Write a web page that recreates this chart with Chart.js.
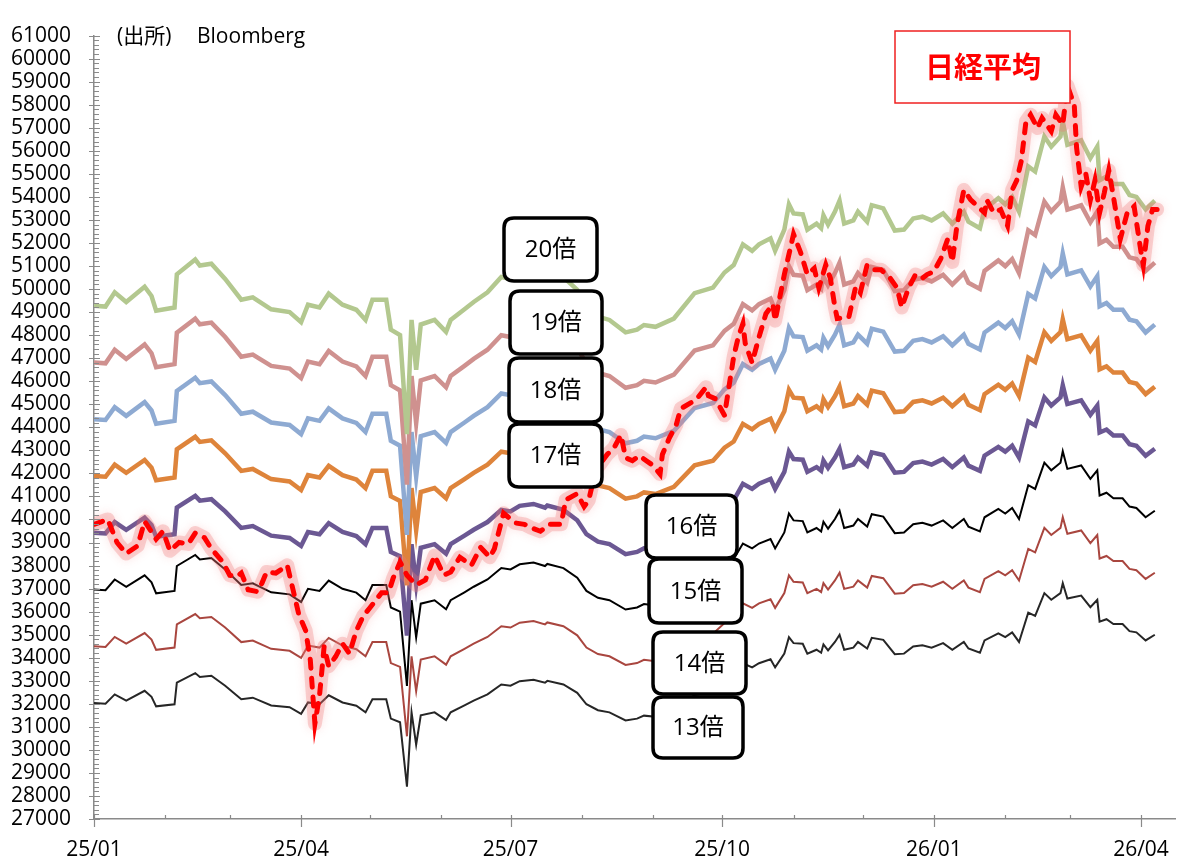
<!DOCTYPE html>
<html><head><meta charset="utf-8">
<script src="https://cdn.jsdelivr.net/npm/chart.js@4.4.1/dist/chart.umd.min.js"></script>
<style>html,body{margin:0;padding:0;background:#fff;}#wrap{width:1187px;height:863px;}</style>
</head><body><div id="wrap"><canvas id="c" width="1187" height="863"></canvas></div>
<script>
// ---- data (days counted from 2025-01-01) ----
const epsDay = [0,5,9,14,22,25,27,35,36,44,
  46,51,57,64,69,77,85,90,93,98,
  102,108,114,118,121,127,129,133,136,138,
  140,142,148,153,155,161,165,171,177,181,
  185,191,196,197,204,210,214,219,224,231,
  236,239,244,252,261,269,274,278,282,286,
  289,294,296,300,302,304,308,310,314,316,
  317,319,322,324,326,330,332,336,338,343,
  348,352,356,360,364,369,373,378,380,385,
  387,393,396,399,402,406,409,413,416,420,
  421,423,429,433,436,437,440,443,447,450,
  453,457,461];
// forecast EPS (yen)
const epsValue = [2464,2462,2493,2472,2505,2485,2453,2460,2532,2564,
  2551,2555,2522,2477,2482,2456,2450,2428,2466,2460,
  2490,2466,2455,2433,2477,2477,2412,2400,2185,2433,
  2325,2423,2433,2407,2433,2456,2472,2493,2526,2522,
  2537,2542,2532,2538,2526,2498,2460,2440,2433,2406,
  2412,2422,2418,2436,2491,2503,2536,2552,2597,2583,
  2597,2610,2583,2629,2684,2664,2662,2629,2642,2632,
  2660,2640,2668,2692,2642,2649,2668,2646,2682,2675,
  2627,2629,2653,2657,2649,2664,2642,2668,2646,2632,
  2673,2697,2684,2700,2668,2766,2755,2831,2809,2831,
  2864,2813,2823,2784,2809,2736,2744,2728,2728,2704,
  2700,2673,2692];
const perMultiples = [13,14,15,16,17,18,19,20];
const perLabels = ['13倍','14倍','15倍','16倍','17倍','18倍','19倍','20倍'];

const nikkeiDay = [0,6,10,14,19,22,27,30,33,37,
  41,44,48,51,56,59,62,64,67,71,
  73,75,79,84,86,89,92,94,96,98,
  100,102,105,108,111,114,117,120,125,128,
  130,133,136,140,144,148,152,155,159,164,
  168,172,174,178,183,187,190,194,198,203,
  205,210,213,215,218,223,226,229,231,234,
  237,240,243,246,247,250,253,255,260,262,
  266,267,270,274,276,278,280,282,283,286,
  289,292,295,296,300,304,307,310,313,315,
  318,320,322,323,328,331,333,336,339,342,
  346,349,351,354,357,360,362,365,368,371,
  373,375,378,381,384,387,388,391,394,397,
  399,401,403,405,407,410,412,416,418,421,
  423,426,427,429,431,433,435,437,439,441,
  443,446,449,452,455,456,458,460,462];
const nikkeiValue = [39790,40000,39000,38520,38860,39920,39150,39490,38640,39000,
  38940,39410,39210,38730,38150,37580,37510,37670,36950,36870,
  37240,37720,37670,38010,37160,35880,35170,33900,31140,32350,
  34480,33630,34050,34610,34180,35170,35810,36180,36820,36820,
  37450,38150,37580,37160,37370,38430,37580,37720,38360,38010,
  38790,38360,38730,40270,39850,39790,39640,39490,39790,39790,
  40850,41120,40560,40840,42130,42820,43110,43670,42680,42550,
  42770,42550,42340,41970,42820,43530,44100,44810,45100,45240,
  45740,45370,45240,44520,45800,47070,47920,48500,47650,46800,
  47920,48930,49350,48630,50630,52380,51610,50630,50900,50050,
  51050,50470,49200,48720,48770,50100,49840,51050,50840,50840,
  50470,50050,49200,50050,50630,50470,50630,50760,51320,52170,
  51180,52750,54300,53870,53600,53310,53870,53310,53450,52750,
  54300,54720,55570,57270,57560,56990,57420,56850,57560,57130,
  58830,57980,56140,54440,55010,53870,54720,53310,54160,55150,
  54020,52170,53310,53590,51610,51040,52740,53450,53450];

const monthTickDays = [0,31,59,90,120,151,181,212,243,273,304,334,365,396,424,455];
const monthTickLabels = ['25/01','','','25/04','','','25/07','','','25/10','','','26/01','','','26/04'];

// ---- styles / layout ----
const bandStyle = {
  13:{color:'#262626',width:2}, 14:{color:'#a9463f',width:2}, 15:{color:'#000000',width:2},
  16:{color:'#6b5893',width:4.5}, 17:{color:'#de843b',width:4.5}, 18:{color:'#8eaad2',width:4.5},
  19:{color:'#cf918f',width:4.5}, 20:{color:'#b3c88f',width:4.5}
};
const labelBoxes = { // pixel boxes for the PER labels: [left, top, right, bottom]
  20:[504,218,597,281], 19:[510,291,602,354], 18:[509,358,602,422], 17:[509,424,602,487],
  16:[646,495,737,558], 15:[649,559,742,623], 14:[653,632,746,694], 13:[653,697,743,758]
};

Chart.defaults.font.family = "'Open Sans','Noto Sans CJK JP',sans-serif";
Chart.defaults.color = '#000';

const datasets = [];
datasets.push({
  label:'日経平均', data: nikkeiDay.map((d,i)=>({x:d,y:nikkeiValue[i]})),
  borderColor:'#ff0000', borderWidth:5, borderDash:[9,10], borderCapStyle:'round', order:0
});
datasets.push({
  label:'glow', glow:true, data: nikkeiDay.map((d,i)=>({x:d,y:nikkeiValue[i]})),
  borderColor:'rgba(240,120,120,0.30)', borderWidth:14, order:1, borderJoinStyle:'round', borderCapStyle:'round'
});
perMultiples.forEach((m,k)=>{
  datasets.push({
    label: perLabels[k], data: epsDay.map((d,i)=>({x:d,y:epsValue[i]*m})),
    borderColor: bandStyle[m].color, borderWidth: bandStyle[m].width, order: 100-m
  });
});

const glowPlugin = {
  id:'glow',
  beforeDatasetDraw(chart,args){
    if(chart.data.datasets[args.index].glow){
      const c=chart.ctx; c.save(); c.shadowColor='rgba(245,110,110,0.6)'; c.shadowBlur=10;
    }
  },
  afterDatasetDraw(chart,args){
    if(chart.data.datasets[args.index].glow){ chart.ctx.restore(); }
  }
};

function roundRect(ctx,x,y,w,h,r){
  ctx.beginPath();
  ctx.moveTo(x+r,y); ctx.lineTo(x+w-r,y); ctx.quadraticCurveTo(x+w,y,x+w,y+r);
  ctx.lineTo(x+w,y+h-r); ctx.quadraticCurveTo(x+w,y+h,x+w-r,y+h);
  ctx.lineTo(x+r,y+h); ctx.quadraticCurveTo(x,y+h,x,y+h-r);
  ctx.lineTo(x,y+r); ctx.quadraticCurveTo(x,y,x+r,y); ctx.closePath();
}

const annotPlugin = {
  id:'annot',
  afterDatasetsDraw(chart){
    const ctx=chart.ctx;
    ctx.save();
    perMultiples.forEach((m,k)=>{
      const b=labelBoxes[m];
      roundRect(ctx,b[0],b[1],b[2]-b[0],b[3]-b[1],10);
      ctx.fillStyle='#fff'; ctx.fill();
      ctx.lineWidth=3.5; ctx.strokeStyle='#000'; ctx.stroke();
      ctx.fillStyle='#000'; ctx.font="24px 'Open Sans','Noto Sans CJK JP'";
      ctx.textAlign='center'; ctx.textBaseline='middle';
      ctx.fillText(perLabels[k],(b[0]+b[2])/2,(b[1]+b[3])/2+1);
    });
    // Nikkei label box
    ctx.fillStyle='#fff'; ctx.fillRect(895,31,175,72);
    ctx.lineWidth=1.5; ctx.strokeStyle='#f02020'; ctx.strokeRect(895,31,175,72);
    ctx.fillStyle='#ff0000'; ctx.font="bold 29px 'Noto Sans CJK JP'";
    ctx.textAlign='center'; ctx.textBaseline='middle';
    ctx.fillText('日経平均',983,67);
    // source
    ctx.fillStyle='#000'; ctx.textAlign='left'; ctx.textBaseline='alphabetic';
    ctx.font="21px 'Open Sans','Noto Sans CJK JP'";
    ctx.fillText('(出所)',117,43);
    ctx.fillText('Bloomberg',197,43);
    ctx.restore();
  },
  afterDraw(chart){
    const ctx=chart.ctx, xs=chart.scales.x, ys=chart.scales.y;
    const ax=chart.chartArea.left, ay=chart.chartArea.bottom;
    ctx.save(); ctx.strokeStyle='#8a8a8a'; ctx.lineWidth=1.2;
    ctx.beginPath();
    for(let v=ys.min; v<=ys.max; v+=200){
      const p=Math.round(ys.getPixelForValue(v))+0.5;
      if(v%1000===0){ctx.moveTo(ax-5,p); ctx.lineTo(ax+6,p);} else {ctx.moveTo(ax,p); ctx.lineTo(ax+5,p);}
    }
    monthTickDays.forEach((d,i)=>{
      const p=Math.round(xs.getPixelForValue(d))+0.5;
      if(monthTickLabels[i]){ctx.moveTo(p,ay-4); ctx.lineTo(p,ay+8);} else {ctx.moveTo(p,ay-4); ctx.lineTo(p,ay);}
    });
    ctx.stroke(); ctx.restore();
  }
};

new Chart(document.getElementById('c'), {
  type:'line',
  data:{datasets},
  options:{
    responsive:false, animation:false, devicePixelRatio:1,
    layout:{padding:{top:19,right:4,left:0,bottom:0}},
    elements:{point:{radius:0,hitRadius:0}, line:{tension:0}},
    plugins:{legend:{display:false}, tooltip:{enabled:false}},
    scales:{
      x:{type:'linear', min:0, max:470,
        grid:{display:false, drawTicks:false},
        border:{display:true, color:'#8a8a8a', width:1.5},
        afterBuildTicks(s){ s.ticks = monthTickDays.map(v=>({value:v})); },
        afterFit(s){ s.height = 44; },
        ticks:{autoSkip:false, maxRotation:0, minRotation:0, padding:18, font:{size:21},
          callback(v){ const i=monthTickDays.indexOf(v); return i>=0?monthTickLabels[i]:''; }}
      },
      y:{type:'linear', min:27000, max:61000,
        grid:{display:false, drawTicks:false},
        border:{display:true, color:'#8a8a8a', width:1.5},
        afterFit(s){ s.width = 94; },
        ticks:{stepSize:1000, maxTicksLimit:100, autoSkip:false, padding:23, font:{size:21},
          callback(v){ return String(v); }}
      }
    }
  },
  plugins:[glowPlugin, annotPlugin]
});
</script></body></html>
